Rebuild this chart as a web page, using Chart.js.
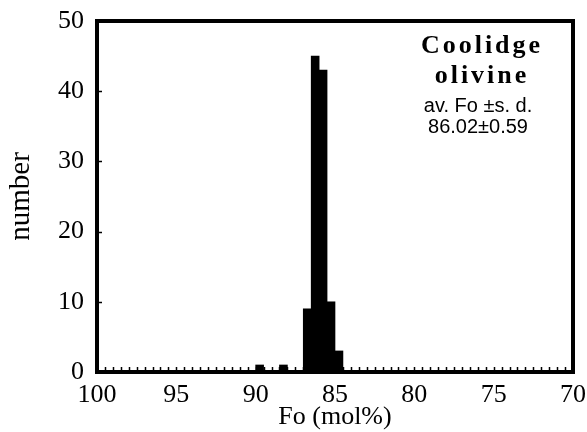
<!DOCTYPE html>
<html>
<head>
<meta charset="utf-8">
<script src="https://cdn.jsdelivr.net/npm/chart.js@4/dist/chart.umd.min.js"></script>
<style>
  html, body { margin: 0; padding: 0; background: #fff; }
  #caja { width: 587px; height: 432px; }
</style>
</head>
<body>
<div id="caja"><canvas id="graficoFo" width="587" height="432"></canvas></div>
<script>
// bins of 0.5 mol% (centres) and their counts
var binCenters = [89.75, 88.25, 86.75, 86.25, 85.75, 85.25, 84.75];
var counts = [1, 1, 9, 45, 43, 10, 3];
var xTickLabels = [100, 95, 90, 85, 80, 75, 70];
var yTickLabels = [0, 10, 20, 30, 40, 50];
var textoNota = ["Coolidge", "olivine", "av. Fo \u00b1s. d.", "86.02\u00b10.59"];

var serif = "'Liberation Serif', 'Times New Roman', serif";
var sans = "'Liberation Sans', Arial, sans-serif";

// frame, inward ticks and the note in the corner
var marco = {
  id: "marco",
  afterDraw: function (chart) {
    var ctx = chart.ctx;
    var a = chart.chartArea;
    var sx = chart.scales.x;
    var sy = chart.scales.y;
    ctx.save();
    ctx.strokeStyle = "#000";
    ctx.lineWidth = 1.5;
    ctx.beginPath();
    sx.ticks.forEach(function (t) {
      var px = Math.round(sx.getPixelForValue(t.value)) + 0.5;
      ctx.moveTo(px, a.bottom);
      ctx.lineTo(px, a.bottom - 5);
    });
    sy.ticks.forEach(function (t) {
      var py = Math.round(sy.getPixelForValue(t.value)) + 0.5;
      ctx.moveTo(a.left, py);
      ctx.lineTo(a.left + 5, py);
    });
    ctx.stroke();

    ctx.lineWidth = 4;
    ctx.strokeRect(a.left, a.top, a.right - a.left, a.bottom - a.top);

    ctx.fillStyle = "#000";
    ctx.textAlign = "center";
    ctx.textBaseline = "alphabetic";
    ctx.font = "bold 26px " + serif;
    ctx.letterSpacing = "3px";
    ctx.fillText(textoNota[0], 482, 53);
    ctx.fillText(textoNota[1], 482, 83);
    ctx.letterSpacing = "0px";
    ctx.font = "20px " + sans;
    ctx.fillText(textoNota[2], 478, 112);
    ctx.fillText(textoNota[3], 478, 133);
    ctx.restore();
  }
};

var dataFo = {
  datasets: [
    {
      label: "number",
      data: binCenters.map(function (c, i) { return { x: c, y: counts[i] }; }),
      backgroundColor: "#000",
      borderWidth: 0,
      barPercentage: 1,
      categoryPercentage: 1,
    }
  ]
};

var configFo = {
  type: "bar",
  data: dataFo,
  options: {
    responsive: false,
    animation: false,
    layout: { padding: { top: 21, right: 14, left: 0, bottom: 0 } },
    plugins: { legend: { display: false }, tooltip: { enabled: false } },
    scales: {
      x: {
        type: "linear",
        reverse: true,
        min: 70,
        max: 100,
        offset: false,
        grid: { display: false },
        border: { display: false },
        ticks: {
          stepSize: 0.5,
          maxTicksLimit: 100,
          autoSkip: false,
          maxRotation: 0,
          padding: 0,
          color: "#000",
          font: { family: serif, size: 26 },
          callback: function (v) { return xTickLabels.indexOf(v) >= 0 ? String(v) : ""; }
        },
        title: {
          display: true,
          text: "Fo (mol%)",
          color: "#000",
          font: { family: serif, size: 26 },
          padding: { top: 0, bottom: -1 }
        },
        afterFit: function (s) { s.height = 60; s.paddingLeft = 0; s.paddingRight = 0; }
      },
      y: {
        min: 0,
        max: 50,
        grid: { display: false },
        border: { display: false },
        ticks: {
          stepSize: 10,
          padding: 5,
          color: "#000",
          font: { family: serif, size: 26 },
          callback: function (v) { return yTickLabels.indexOf(v) >= 0 ? String(v) : ""; }
        },
        title: {
          display: true,
          text: "number",
          color: "#000",
          font: { family: serif, size: 29 },
          padding: { top: 4, bottom: 0 }
        },
        afterFit: function (s) { s.width = 97; s.paddingTop = 0; s.paddingBottom = 0; }
      }
    }
  },
  plugins: [marco]
};

var graficoFo = new Chart(document.getElementById("graficoFo"), configFo);
</script>
</body>
</html>
